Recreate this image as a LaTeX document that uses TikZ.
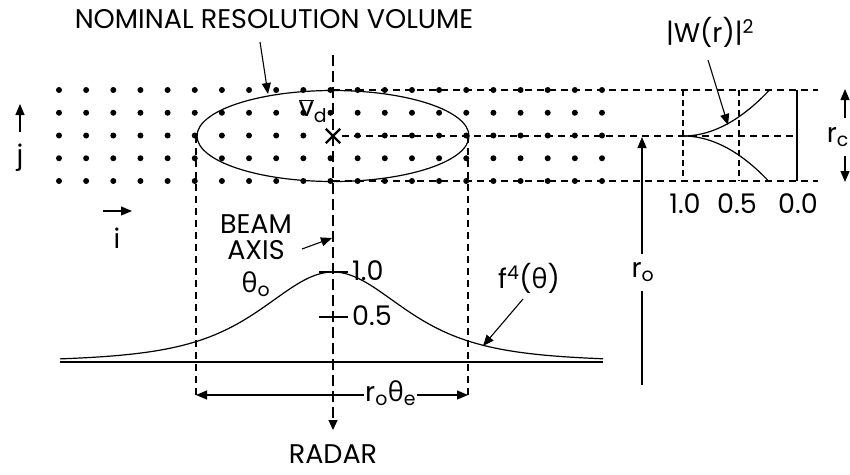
\documentclass[tikz,border=0pt]{standalone}
\usepackage{fontspec}
\setmainfont{Poppins}
\newfontfamily\grk{Open Sans}
\usetikzlibrary{arrows.meta,shapes.geometric,shapes.misc}
\tikzset{
  lbl/.style={font=\fontsize{27}{31}\selectfont, inner sep=0pt},
  dotn/.style={circle, fill, inner sep=0pt, minimum size=6pt},
  dsh/.style={dash pattern=on 7pt off 5pt, line width=1.1pt},
  axdash/.style={dash pattern=on 11pt off 5pt, line width=1.1pt},
  arr/.style={-{Triangle[length=11pt,width=9pt]}, line width=1.1pt},
  solidl/.style={line width=1.2pt}
}
\newcommand{\thet}{{\grk θ}}
\begin{document}
\begin{tikzpicture}[x=1pt,y=-1pt]
\clip (0,0) rectangle (850,474);
\fill[white] (0,0) rectangle (850,474);
% dot grid
\foreach \c in {0,...,20}{
  \foreach \r in {0,...,4}{
    \ifnum\c=10 \ifnum\r=2 \else
      \node[dotn] (d-\c-\r) at ({59+\c*27.15},{90+\r*22.75}) {};
    \fi\else
      \node[dotn] (d-\c-\r) at ({59+\c*27.15},{90+\r*22.75}) {};
    \fi
  }
}
% resolution volume
\node[ellipse, draw, solidl, minimum width=272pt, minimum height=91pt, inner sep=0pt] (vol) at (333,136) {};
\node[cross out, draw, line width=2.4pt, minimum size=12pt, inner sep=0pt] (vx) at (333,136) {};
\node[lbl] (vd) at (313,111) {\(\overline{\mbox{v}}\)\textsubscript{d}};
% title
\node[lbl] (title) at (274,19) {NOMINAL RESOLUTION VOLUME};
\coordinate (tA) at (260,42);
\coordinate (tB) at (268,94);
\draw[arr] (tA) -- (tB);
% horizontal dashed
\coordinate (h1a) at (333,90); \coordinate (h1b) at (818,90);
\coordinate (h2a) at (342,136); \coordinate (h2b) at (797,136);
\coordinate (h3a) at (333,181); \coordinate (h3b) at (818,181);
\draw[dsh] (h1a) -- (h1b);
\draw[dsh] (h2a) -- (h2b);
\draw[dsh] (h3a) -- (h3b);
% beam axis
\coordinate (axtop) at (333,55);
\coordinate (axbot) at (333,430);
\draw[axdash, -{Triangle[length=10pt,width=9pt]}] (axtop) -- (axbot);
\node[lbl, anchor=base] (radar) at (333,463) {RADAR};
% vertical dashed edges
\coordinate (lv1) at (196,136); \coordinate (lv2) at (196,396);
\coordinate (rv1) at (468,136); \coordinate (rv2) at (468,396);
\draw[dsh] (lv1) -- (lv2);
\draw[dsh] (rv1) -- (rv2);
% r0 theta e dimension
\node[lbl, anchor=west] (rth) at (365,393) {r\textsubscript{o}\thet\textsubscript{e}};
\coordinate (dl) at (196,395);
\coordinate (dr) at (468,395);
\draw[arr] (rth.west) ++(-1,2) -- (dl);
\draw[arr] (rth.east) ++(1,2) -- (dr);
% beam pattern
\coordinate (b1) at (60,362); \coordinate (b2) at (603,362);
\draw[line width=1.5pt] (b1) -- (b2);
\draw[solidl] plot[domain=60:603, samples=150] (\x, {362-90/((1+((\x-333)/130.6)^2)^2)});
\coordinate (t1a) at (319,272); \coordinate (t1b) at (348,272);
\coordinate (t2a) at (319,317); \coordinate (t2b) at (348,317);
\draw[solidl] (t1a) -- (t1b);
\draw[solidl] (t2a) -- (t2b);
\node[lbl, anchor=west] (one) at (352,271) {1.0};
\node[lbl, anchor=west] (half) at (352,316) {0.5};
\node[lbl, anchor=base] (beam1) at (256,233) {BEAM};
\node[lbl, anchor=base] (beam2) at (256,259) {AXIS};
\coordinate (baA) at (302,249); \coordinate (baB) at (332,238);
\draw[arr] (baA) -- (baB);
\node[lbl] (th0) at (256,284) {\thet\textsubscript{o}};
\node[lbl] (f4) at (529,278) {f\textsuperscript{4}(\thet)};
\coordinate (fA) at (523,299); \coordinate (fB) at (483,346);
\draw[arr] (fA) -- (fB);
% range r0
\node[lbl] (ro) at (643,272) {r\textsubscript{o}};
\coordinate (roA) at (642,254); \coordinate (roB) at (642,137);
\coordinate (roC) at (642,291); \coordinate (roD) at (642,385);
\draw[arr] (roA) -- (roB);
\draw[solidl] (roC) -- (roD);
% range weighting
\coordinate (w1a) at (683,90); \coordinate (w1b) at (683,181);
\coordinate (w2a) at (739,90); \coordinate (w2b) at (739,181);
\coordinate (w3a) at (797,90); \coordinate (w3b) at (797,181);
\draw[dsh, dash pattern=on 6pt off 4pt] (w1a) -- (w1b);
\draw[dsh, dash pattern=on 6pt off 4pt] (w2a) -- (w2b);
\draw[solidl] (w3a) -- (w3b);
\draw[solidl] plot[domain=0:1, samples=40] ({683+86*\x},{136-45.5*\x*\x});
\draw[solidl] plot[domain=0:1, samples=40] ({683+86*\x},{136+45.5*\x*\x});
\node[lbl] (n10) at (685,204) {1.0};
\node[lbl] (n05) at (737,204) {0.5};
\node[lbl] (n00) at (798,204) {0.0};
\node[lbl] (wr) at (710,32) {|W(r)|\textsuperscript{2}};
\coordinate (wA) at (708,60); \coordinate (wB) at (728,125);
\draw[arr] (wA) -- (wB);
% rc
\node[lbl, anchor=east] (rc) at (849,137) {r\textsubscript{c}};
\coordinate (rcA) at (845,118); \coordinate (rcB) at (845,89);
\coordinate (rcC) at (845,156); \coordinate (rcD) at (845,182);
\draw[arr] (rcA) -- (rcB);
\draw[arr] (rcC) -- (rcD);
% i j
\coordinate (jA) at (20,132); \coordinate (jB) at (20,104);
\draw[arr] (jA) -- (jB);
\node[lbl] (jl) at (20,158) {j};
\coordinate (iA) at (103,211); \coordinate (iB) at (132,211);
\draw[arr] (iA) -- (iB);
\node[lbl] (il) at (117,238) {i};
\end{tikzpicture}
\end{document}
